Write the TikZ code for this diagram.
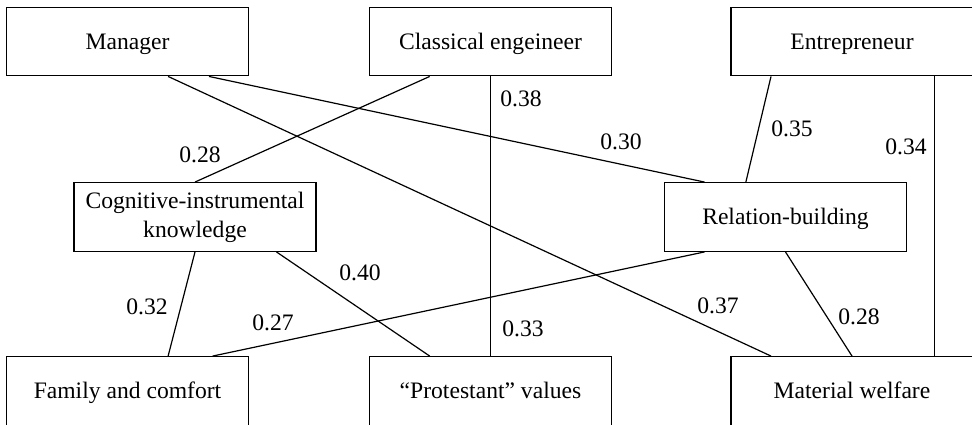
\documentclass[tikz,border=0pt]{standalone}
\usepackage{fontspec}
\setmainfont{Liberation Serif}
\usetikzlibrary{calc}

\begin{document}
\begin{tikzpicture}[x=0.75pt, y=-0.75pt,
    rolebox/.style={draw, line width=0.9pt, minimum width=181.5pt, minimum height=51.5pt,
      align=center, inner sep=2pt, font=\fontsize{17.7}{21.7}\selectfont},
    oneline/.style={text height=14pt, text depth=2.4pt},
    weight/.style={inner sep=0pt, font=\fontsize{17.7}{21.7}\selectfont},
    link/.style={line width=0.9pt}]
    \useasboundingbox (0,0) rectangle (972,425);

    % roles
    \node[rolebox, oneline] (man) at (127.5,41.5) {Manager};
    \node[rolebox, oneline] (eng) at (490.5,41.5) {Classical engeineer};
    \node[rolebox, oneline] (ent) at (852,41.5) {Entrepreneur};
    % competences
    \node[rolebox] (cog) at (195,217) {Cognitive-instrumental\\knowledge};
    \node[rolebox, oneline] (rel) at (785.5,217) {Relation-building};
    % values
    \node[rolebox, oneline] (fam) at (127.5,391) {Family and comfort};
    \node[rolebox, oneline] (prot) at (490.5,391) {“Protestant” values};
    \node[rolebox, oneline] (mat) at (852,391) {Material welfare};

    % links
    \draw[link] ($(man.south west)!.835!(man.south east)$) -- ($(rel.north west)!.167!(rel.north east)$);
    \draw[link] ($(man.south west)!.667!(man.south east)$) -- ($(mat.north west)!.167!(mat.north east)$);
    \draw[link] ($(eng.south west)!.25!(eng.south east)$) -- (cog.north);
    \draw[link] (eng.south) -- (prot.north);
    \draw[link] ($(ent.south west)!.167!(ent.south east)$) -- ($(rel.north west)!.337!(rel.north east)$);
    \draw[link] ($(ent.south west)!.84!(ent.south east)$) -- ($(mat.north west)!.84!(mat.north east)$);
    \draw[link] (cog.south) -- ($(fam.north west)!.667!(fam.north east)$);
    \draw[link] ($(cog.south west)!.835!(cog.south east)$) -- ($(prot.north west)!.25!(prot.north east)$);
    \draw[link] ($(rel.south west)!.167!(rel.south east)$) -- ($(fam.north west)!.85!(fam.north east)$);
    \draw[link] (rel.south) -- (mat.north);

    % weights
    \node[weight] (w1) at (200,155) {0.28};
    \node[weight] (w2) at (521,99) {0.38};
    \node[weight] (w3) at (621,142) {0.30};
    \node[weight] (w4) at (792,129) {0.35};
    \node[weight] (w5) at (906,147) {0.34};
    \node[weight] (w6) at (147,307) {0.32};
    \node[weight] (w7) at (273,323) {0.27};
    \node[weight] (w8) at (360,273) {0.40};
    \node[weight] (w9) at (523,329) {0.33};
    \node[weight] (w10) at (718,306) {0.37};
    \node[weight] (w11) at (859,317) {0.28};
\end{tikzpicture}
\end{document}
